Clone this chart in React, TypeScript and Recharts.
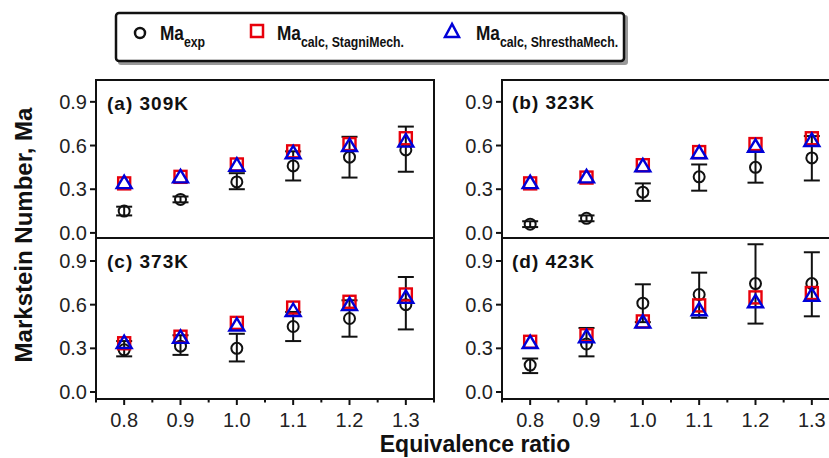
import React from 'react';
import { ScatterChart, Scatter, XAxis, YAxis, ErrorBar, ReferenceArea } from 'recharts';

const FONT = '"Liberation Sans", Arial, sans-serif';

const phi = [0.8, 0.9, 1.0, 1.1, 1.2, 1.3];
const xMajor = [0.8, 0.9, 1.0, 1.1, 1.2, 1.3];
const xMinor = [0.75, 0.85, 0.95, 1.05, 1.15, 1.25, 1.35];
const yTicks = [0, 0.3, 0.6, 0.9];

// (a) 309K
const exp309 = [0.15, 0.23, 0.35, 0.46, 0.52, 0.57];
const low309 = [0.12, 0.21, 0.3, 0.36, 0.38, 0.42];
const high309 = [0.18, 0.25, 0.41, 0.56, 0.66, 0.73];
const stagni309 = [0.34, 0.385, 0.47, 0.56, 0.61, 0.65];
const shrestha309 = [0.345, 0.385, 0.465, 0.55, 0.6, 0.63];

// (b) 323K
const exp323 = [0.06, 0.1, 0.28, 0.385, 0.45, 0.515];
const low323 = [0.04, 0.08, 0.22, 0.29, 0.345, 0.36];
const high323 = [0.08, 0.12, 0.34, 0.47, 0.56, 0.665];
const stagni323 = [0.34, 0.38, 0.465, 0.555, 0.61, 0.65];
const shrestha323 = [0.345, 0.385, 0.46, 0.55, 0.595, 0.635];

// (c) 373K
const exp373 = [0.29, 0.315, 0.3, 0.45, 0.505, 0.6];
const low373 = [0.245, 0.255, 0.21, 0.35, 0.38, 0.43];
const high373 = [0.35, 0.39, 0.4, 0.55, 0.63, 0.79];
const stagni373 = [0.335, 0.38, 0.475, 0.58, 0.62, 0.67];
const shrestha373 = [0.34, 0.375, 0.46, 0.56, 0.6, 0.65];

// (d) 423K
const exp423 = [0.185, 0.33, 0.61, 0.67, 0.745, 0.745];
const low423 = [0.13, 0.245, 0.48, 0.51, 0.47, 0.52];
const high423 = [0.23, 0.44, 0.74, 0.82, 1.015, 0.96];
const stagni423 = [0.345, 0.39, 0.485, 0.595, 0.65, 0.68];
const shrestha423 = [0.34, 0.38, 0.48, 0.565, 0.62, 0.665];

const xTicks = [...xMajor, ...xMinor].sort((a, b) => a - b);

function CircleShape(props: any) {
  return <circle cx={props.cx} cy={props.cy} r={5.5} fill="none" stroke="#111" strokeWidth={2} />;
}
function SquareShape(props: any) {
  return (
    <rect x={props.cx - 6} y={props.cy - 6} width={12} height={12} fill="none" stroke="#e8000b" strokeWidth={2.4} />
  );
}
function TriangleShape(props: any) {
  const { cx, cy } = props;
  return (
    <polygon
      points={`${cx},${cy - 7} ${cx - 7.5},${cy + 5.5} ${cx + 7.5},${cy + 5.5}`}
      fill="none"
      stroke="#0000d8"
      strokeWidth={2.4}
    />
  );
}

function XTick(props: any) {
  const { x, y, payload } = props;
  const v = payload.value;
  const major = xMajor.some((m) => Math.abs(m - v) < 1e-6);
  return (
    <g>
      <line x1={x} x2={x} y1={y} y2={y + (major ? 6 : 3.5)} stroke="#111" strokeWidth={2} />
      {major && (
        <text x={x} y={y + 28} textAnchor="middle" fontSize={20} fill="#222" fontFamily={FONT}>
          {v.toFixed(1)}
        </text>
      )}
    </g>
  );
}

type PanelProps = {
  left: number;
  top: number;
  bottomRow: boolean;
  exp: number[];
  low: number[];
  high: number[];
  stagni: number[];
  shrestha: number[];
};

function Panel({ left, top, bottomRow, exp, low, high, stagni, shrestha }: PanelProps) {
  const yw = left === 0 ? 96 : 62;
  const width = yw + 338 + 6;
  const marginTop = bottomRow ? 8 : 10;
  const plotH = bottomRow ? 161 : 158;
  const xh = bottomRow ? 50 : 0;
  const height = marginTop + plotH + xh + (bottomRow ? 0 : 7);
  const yDomain: [number, number] = bottomRow ? [-0.048, 1.058] : [-0.035, 1.05];

  const expData = phi.map((x, i) => ({ x, y: exp[i], err: [exp[i] - low[i], high[i] - exp[i]] }));
  const stagniData = phi.map((x, i) => ({ x, y: stagni[i] }));
  const shresthaData = phi.map((x, i) => ({ x, y: shrestha[i] }));

  return (
    <div style={{ position: 'absolute', left, top, width, height }}>
      <ScatterChart width={width} height={height} margin={{ top: marginTop, right: 6, bottom: bottomRow ? 0 : 7, left: 0 }}>
        <XAxis
          type="number"
          dataKey="x"
          domain={[0.75, 1.35]}
          ticks={xTicks}
          interval={0}
          allowDataOverflow
          height={xh}
          tickLine={false}
          tickSize={0}
          tickMargin={0}
          tick={bottomRow ? (p: any) => <XTick {...p} /> : false}
          axisLine={{ stroke: '#111', strokeWidth: 2 }}
        />
        <YAxis
          type="number"
          dataKey="y"
          domain={yDomain}
          ticks={yTicks}
          interval={0}
          allowDataOverflow
          width={yw}
          tickSize={6}
          tickMargin={3}
          tickFormatter={(v: number) => v.toFixed(1)}
          tick={{ fontSize: 20, fill: '#222', fontFamily: FONT }}
          tickLine={{ stroke: '#111', strokeWidth: 2 }}
          axisLine={{ stroke: '#111', strokeWidth: 2 }}
        />
        <ReferenceArea
          x1={0.75}
          x2={1.35}
          y1={yDomain[0]}
          y2={yDomain[1]}
          stroke="#111"
          strokeWidth={2}
          fill="none"
          fillOpacity={0}
          ifOverflow="visible"
        />
        <Scatter data={expData} isAnimationActive={false} shape={(p: any) => <CircleShape {...p} />}>
          <ErrorBar dataKey="err" direction="y" width={8} stroke="#111" strokeWidth={2} isAnimationActive={false} />
        </Scatter>
        <Scatter data={stagniData} isAnimationActive={false} shape={(p: any) => <SquareShape {...p} />} />
        <Scatter data={shresthaData} isAnimationActive={false} shape={(p: any) => <TriangleShape {...p} />} />
      </ScatterChart>
    </div>
  );
}

function Overlay() {
  const sub = { fontSize: 15 };
  return (
    <svg width={829} height={458} style={{ position: 'absolute', left: 0, top: 0, pointerEvents: 'none' }} fontFamily={FONT}>
      {/* legend */}
      <rect x={118} y={15} width={510} height={50} fill="#999" rx={3} />
      <rect x={116} y={13} width={508} height={48} fill="#fff" stroke="#111" strokeWidth={2.5} rx={3} />
      <circle cx={140} cy={33} r={5} fill="none" stroke="#111" strokeWidth={2.5} />
      <text transform="translate(160,40) scale(0.82,1)" fontSize={21} fontWeight="bold" fill="#111">
        Ma<tspan dy={7} style={sub}>exp</tspan>
      </text>
      <rect x={251} y={25} width={12} height={12} fill="none" stroke="#e8000b" strokeWidth={2.5} />
      <text transform="translate(277,40) scale(0.82,1)" fontSize={21} fontWeight="bold" fill="#111">
        Ma<tspan dy={7} style={sub}>calc, StagniMech.</tspan>
      </text>
      <polygon points="452,24 445,37 459,37" fill="none" stroke="#0000d8" strokeWidth={2.5} />
      <text transform="translate(476,40) scale(0.82,1)" fontSize={21} fontWeight="bold" fill="#111">
        Ma<tspan dy={7} style={sub}>calc, ShresthaMech.</tspan>
      </text>

      {/* panel labels */}
      <text x={107} y={110} fontSize={19} fontWeight="bold" letterSpacing={1} fill="#111">(a) 309K</text>
      <text x={512} y={109} fontSize={19} fontWeight="bold" letterSpacing={1} fill="#111">(b) 323K</text>
      <text x={107} y={268} fontSize={19} fontWeight="bold" letterSpacing={1} fill="#111">(c) 373K</text>
      <text x={512} y={268} fontSize={19} fontWeight="bold" letterSpacing={1} fill="#111">(d) 423K</text>

      {/* axis titles */}
      <text transform="translate(32,235) rotate(-90)" textAnchor="middle" fontSize={24} fontWeight="bold" fill="#111">
        Markstein Number, Ma
      </text>
      <text x={475} y={452} textAnchor="middle" fontSize={23} fontWeight="bold" fill="#111">
        Equivalence ratio
      </text>
    </svg>
  );
}

export default function App() {
  return (
    <div style={{ position: 'absolute', left: 0, top: 0, width: 829, height: 458, overflow: 'hidden', background: '#fff' }}>
      <Panel left={0} top={70} bottomRow={false} exp={exp309} low={low309} high={high309} stagni={stagni309} shrestha={shrestha309} />
      <Panel left={440} top={70} bottomRow={false} exp={exp323} low={low323} high={high323} stagni={stagni323} shrestha={shrestha323} />
      <Panel left={0} top={230} bottomRow exp={exp373} low={low373} high={high373} stagni={stagni373} shrestha={shrestha373} />
      <Panel left={440} top={230} bottomRow exp={exp423} low={low423} high={high423} stagni={stagni423} shrestha={shrestha423} />
      <Overlay />
    </div>
  );
}
